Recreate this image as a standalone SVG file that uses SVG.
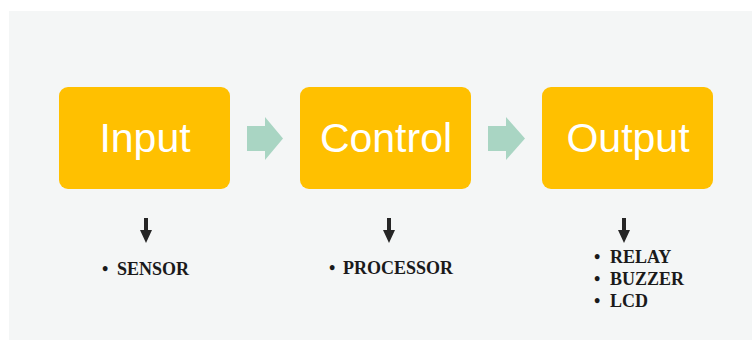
<svg xmlns="http://www.w3.org/2000/svg" width="752" height="340" viewBox="0 0 752 340">
<defs>
<style>
.box{fill:#ffc000}
.title{font-family:"Liberation Sans",Arial,sans-serif;font-size:41px;fill:#ffffff;text-anchor:middle}
.flow{fill:#a9d5c3}
.down{fill:#262626}
.item{font-family:"Liberation Serif","Times New Roman",serif;font-weight:bold;font-size:18px;fill:#1a1a1a}
</style>
</defs>
<rect x="0" y="0" width="752" height="340" fill="#ffffff"/>
<rect x="9" y="11" width="743" height="329" fill="#f4f6f6"/>
<g id="connectors">
<polygon class="flow" points="247,126 265,126 265,117 283,138.5 265,160 265,151 247,151"/>
<polygon class="flow" points="488,126 506,126 506,117 525,138.5 506,160 506,151 488,151"/>
<polygon class="down" points="144,218 148,218 148,230 152,230 146,243 140,230 144,230"/>
<polygon class="down" points="387,218 391,218 391,230 395,230 389,243 383,230 387,230"/>
<polygon class="down" points="622,218 626,218 626,230 630,230 624,243 618,230 622,230"/>
</g>
<g id="input">
<rect class="box" x="59" y="87" width="171" height="102" rx="9"/>
<text class="title" x="145" y="152">Input</text>
</g>
<g id="control">
<rect class="box" x="300" y="87" width="171" height="102" rx="9"/>
<text class="title" x="386" y="152">Control</text>
</g>
<g id="output">
<rect class="box" x="542" y="87" width="171" height="102" rx="9"/>
<text class="title" x="628" y="152">Output</text>
</g>
<g id="input-items">
<text class="item" x="102" y="275">•</text>
<text class="item" x="117" y="275">SENSOR</text>
</g>
<g id="control-items">
<text class="item" x="329" y="274">•</text>
<text class="item" x="343" y="274">PROCESSOR</text>
</g>
<g id="output-items">
<text class="item" x="594" y="263">•</text>
<text class="item" x="610" y="263">RELAY</text>
<text class="item" x="594" y="285">•</text>
<text class="item" x="610" y="285">BUZZER</text>
<text class="item" x="594" y="307">•</text>
<text class="item" x="610" y="307">LCD</text>
</g>
</svg>
